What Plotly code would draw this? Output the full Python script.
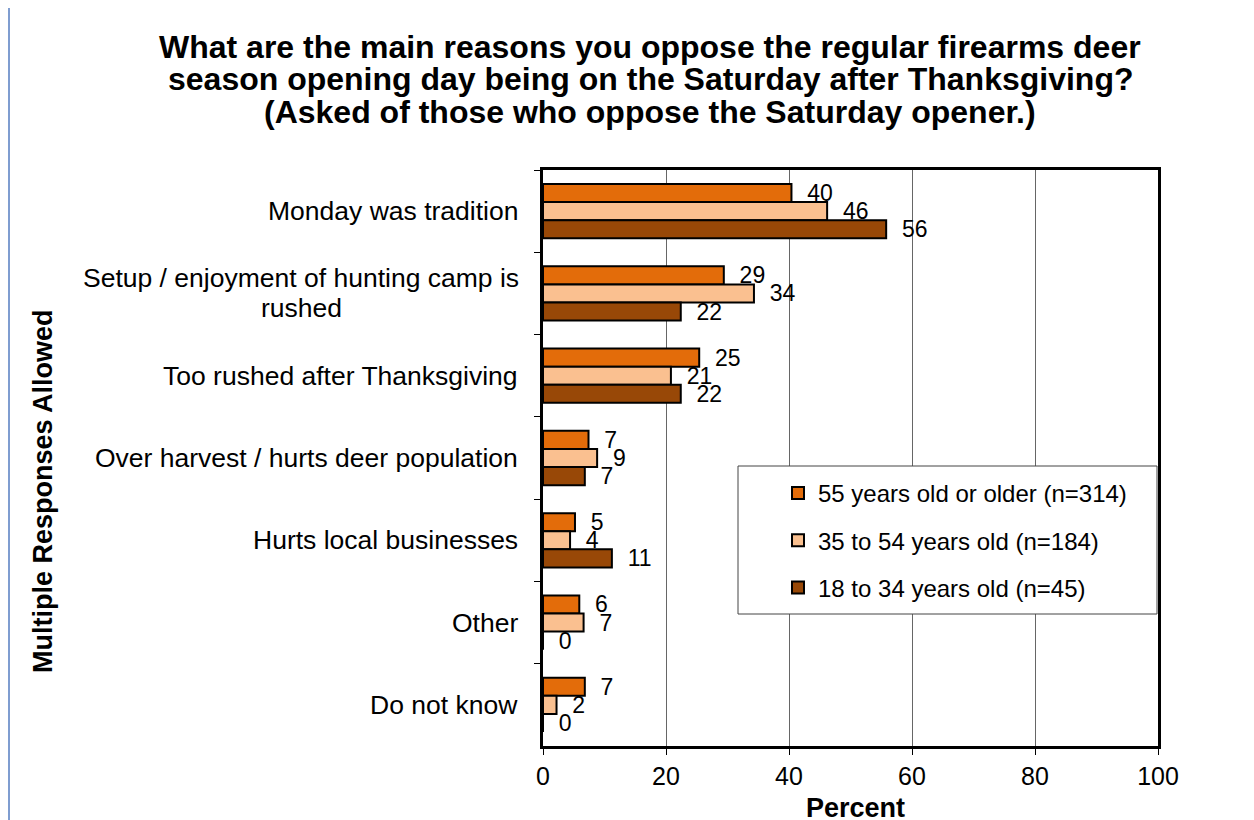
import plotly.graph_objects as go

# survey categories, top to bottom
reasons = [
    "Monday was tradition",
    "Setup / enjoyment of hunting camp is<br>rushed",
    "Too rushed after Thanksgiving",
    "Over harvest / hurts deer population",
    "Hurts local businesses",
    "Other",
    "Do not know",
]

age_55_plus = [40.4, 29.4, 25.4, 7.4, 5.2, 5.9, 6.8]
age_35_54 = [46.2, 34.3, 20.8, 8.8, 4.4, 6.6, 2.2]
age_18_34 = [55.8, 22.4, 22.4, 6.8, 11.2, 0, 0]

series = [
    ("55 years old or older (n=314)", age_55_plus, "#E36C0A"),
    ("35 to 54 years old (n=184)", age_35_54, "#FAC090"),
    ("18 to 34 years old (n=45)", age_18_34, "#984807"),
]

title_lines = [
    "What are the main reasons you oppose the regular firearms deer",
    "season opening day being on the Saturday after Thanksgiving?",
    "(Asked of those who oppose the Saturday opener.)",
]

# the page body adds an 8px margin, so the figure is 8px smaller than the window
W, H = 1246, 812
L, R, T, B = 535, 96, 162, 74
pw, ph = W - L - R, H - T - B


def px(x):
    # window pixel -> paper x
    return (x - 8 - L) / pw


def py(y):
    # window pixel -> paper y
    return (H - B - (y - 8)) / ph


FONT = "Liberation Sans, Arial, sans-serif"

fig = go.Figure()
for i, (name, vals, color) in enumerate(series):
    fig.add_trace(go.Bar(
        y=reasons, x=vals, name=name, orientation="h",
        marker=dict(color=color, line=dict(color="black", width=2)),
        texttemplate="\u00a0\u00a0%{x:.0f}", textposition="outside",
        constraintext="none",
        textfont=dict(size=23, color="black"),
        cliponaxis=False, legendgroup=str(i),
    ))

fig.update_layout(
    width=W, height=H,
    margin=dict(l=L, r=R, t=T, b=B),
    paper_bgcolor="white", plot_bgcolor="white",
    font=dict(family=FONT, color="black"),
    barmode="group", bargap=0.34, bargroupgap=0,
    legend=dict(
        x=px(778), xanchor="left", y=py(471), yanchor="top",
        bgcolor="rgba(0,0,0,0)", borderwidth=0,
        font=dict(size=24), tracegroupgap=13,
        itemwidth=30,
    ),
    showlegend=True,
)

fig.update_xaxes(
    range=[0, 100], dtick=20,
    showgrid=True, gridcolor="#666666", gridwidth=1,
    showline=True, linecolor="black", linewidth=3, mirror=True,
    ticks="outside", ticklen=6, tickcolor="black",
    tickfont=dict(size=25),
    zeroline=False, automargin=False,
)
fig.update_yaxes(
    autorange="reversed",
    showline=True, linecolor="black", linewidth=3, mirror=True,
    ticks="outside", ticklen=6, tickcolor="black", tickson="boundaries",
    showticklabels=False, showgrid=False, automargin=False,
)

# title, one annotation per line for tight line spacing
for k, line in enumerate(title_lines):
    fig.add_annotation(
        x=px(650), xref="paper", y=py(47 + 32.5 * k), yref="paper",
        text="<b>" + line + "</b>", showarrow=False,
        xanchor="center", yanchor="middle", font=dict(size=32),
    )

# category labels, multi-line ones centred line by line
for r in reasons:
    parts = r.split("<br>")
    n = len(parts)
    for j, part in enumerate(parts):
        fig.add_annotation(
            x=0, xref="paper", y=r, yref="y", text=part,
            xanchor="center" if n > 1 else "right", yanchor="middle",
            xshift=-(23 + 219) if n > 1 else -23,
            yshift=15 * (n - 1) - 30 * j,
            showarrow=False, font=dict(size=26.5),
        )

# axis titles
fig.add_annotation(
    x=px(43), xref="paper", y=py(491), yref="paper",
    text="<b>Multiple Responses Allowed</b>", textangle=-90,
    showarrow=False, font=dict(size=27), xanchor="center", yanchor="middle",
)
fig.add_annotation(
    x=px(855), xref="paper", y=py(808), yref="paper",
    text="<b>Percent</b>", showarrow=False, font=dict(size=27),
    xanchor="center", yanchor="middle",
)

# legend box
fig.add_shape(
    type="rect", xref="paper", yref="paper", layer="above",
    x0=px(738), x1=px(1157), y0=py(614), y1=py(466),
    fillcolor="white", line=dict(color="#444444", width=1),
)
# outer frame edge on the left
fig.add_shape(
    type="line", xref="paper", yref="paper",
    x0=px(9), x1=px(9), y0=py(8), y1=py(820),
    line=dict(color="#7F9DD0", width=2),
)

fig.write_html("out.html")
